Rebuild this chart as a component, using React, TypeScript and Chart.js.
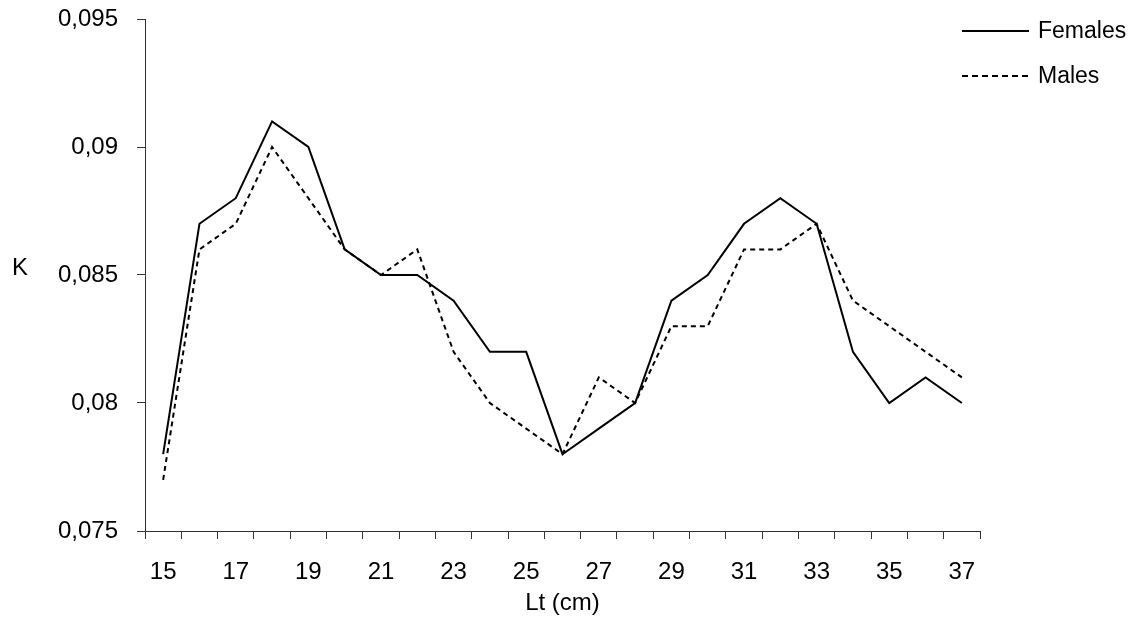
import React, { useEffect, useRef } from 'react';
import { Chart, registerables } from 'chart.js';

Chart.register(...registerables);

const lengthClasses = ['15', '16', '17', '18', '19', '20', '21', '22', '23', '24', '25', '26', '27', '28', '29', '30', '31', '32', '33', '34', '35', '36', '37'];
const femalesK = [0.078, 0.087, 0.088, 0.091, 0.09, 0.086, 0.085, 0.085, 0.084, 0.082, 0.082, 0.078, 0.079, 0.08, 0.084, 0.085, 0.087, 0.088, 0.087, 0.082, 0.08, 0.081, 0.08];
const malesK = [0.077, 0.086, 0.087, 0.09, 0.088, 0.086, 0.085, 0.086, 0.082, 0.08, 0.079, 0.078, 0.081, 0.08, 0.083, 0.083, 0.086, 0.086, 0.087, 0.084, 0.083, 0.082, 0.081];
const seriesNames = ['Females', 'Males'];
const yMin = 0.075;
const yMax = 0.095;
const yStep = 0.005;
const xTitle = 'Lt (cm)';
const yTitle = 'K';

const FONT = '"Liberation Sans", Arial, sans-serif';

const sidePlugin = {
  id: 'sideLegend',
  afterDraw(chart: any) {
    const { ctx, chartArea } = chart;
    ctx.save();
    ctx.fillStyle = '#000';
    ctx.textBaseline = 'middle';
    ctx.textAlign = 'left';
    ctx.font = `23px ${FONT}`;
    chart.data.datasets.forEach((ds: any, i: number) => {
      const y = 23 + i * 45;
      const x0 = chartArea.right - 18;
      ctx.strokeStyle = '#000';
      ctx.lineWidth = 2;
      ctx.setLineDash(ds.borderDash && ds.borderDash.length ? [6, 4] : []);
      ctx.beginPath();
      ctx.moveTo(x0, y);
      ctx.lineTo(x0 + 67, y);
      ctx.stroke();
      ctx.setLineDash([]);
      ctx.fillText(ds.label, x0 + 76, y + 1);
    });
    ctx.font = `24px ${FONT}`;
    ctx.fillText(yTitle, 4, (chartArea.top + chartArea.bottom) / 2 - 7);
    ctx.restore();
  },
};

export default function App() {
  const ref = useRef<HTMLCanvasElement>(null);
  useEffect(() => {
    if (!ref.current) return;
    const chart = new Chart(ref.current, {
      type: 'line',
      data: {
        labels: lengthClasses,
        datasets: [
          {
            label: seriesNames[0],
            data: femalesK,
            borderColor: '#000',
            borderWidth: 2,
            pointRadius: 0,
            fill: false,
            tension: 0,
          },
          {
            label: seriesNames[1],
            data: malesK,
            borderColor: '#000',
            borderWidth: 2,
            borderDash: [5, 4],
            pointRadius: 0,
            fill: false,
            tension: 0,
          },
        ],
      },
      options: {
        animation: false,
        responsive: true,
        maintainAspectRatio: false,
        layout: { padding: { top: 11, right: 149, bottom: 0, left: 0 } },
        plugins: {
          legend: { display: false },
          tooltip: { enabled: false },
        },
        scales: {
          x: {
            type: 'category',
            offset: true,
            grid: {
              offset: true,
              drawOnChartArea: false,
              drawTicks: true,
              tickLength: 8,
              color: '#333',
            },
            border: { display: true, color: '#333', width: 1 },
            ticks: {
              autoSkip: false,
              maxRotation: 0,
              padding: 19,
              color: '#000',
              font: { family: FONT, size: 24 },
              callback: (_v: any, i: number) => (i % 2 === 0 ? lengthClasses[i] : ''),
            },
            title: {
              display: true,
              text: xTitle,
              color: '#000',
              font: { family: FONT, size: 24 },
              padding: { top: 0, bottom: 7 },
            },
            afterFit: (scale: any) => {
              scale.height = 94;
              scale.paddingLeft = 0;
              scale.paddingRight = 0;
            },
          },
          y: {
            min: yMin,
            max: yMax,
            grid: {
              drawOnChartArea: false,
              drawTicks: true,
              tickLength: 8,
              color: '#333',
            },
            border: { display: true, color: '#333', width: 1 },
            ticks: {
              stepSize: yStep,
              padding: 19,
              color: '#000',
              font: { family: FONT, size: 24 },
              callback: (v: any) => String(parseFloat(Number(v).toFixed(3))).replace('.', ','),
            },
            afterFit: (scale: any) => {
              scale.width = 137;
              scale.paddingTop = 0;
              scale.paddingBottom = 0;
            },
          },
        },
      },
      plugins: [sidePlugin],
    });
    return () => chart.destroy();
  }, []);
  return (
    <div style={{ position: 'relative', width: 1121, height: 617 }}>
      <canvas ref={ref} />
    </div>
  );
}
